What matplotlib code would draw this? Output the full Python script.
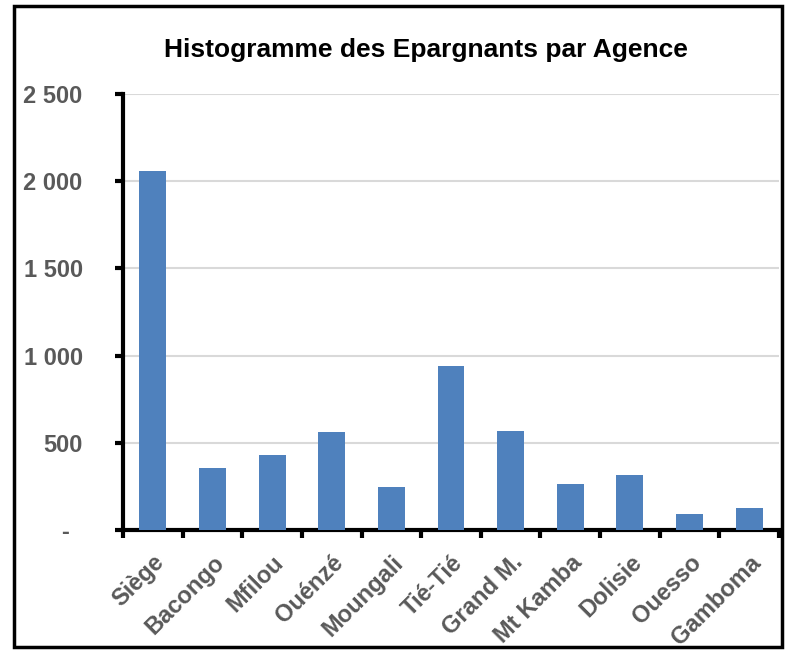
#!/usr/bin/env python3

import numpy as np
from matplotlib import pyplot as plt
from matplotlib.patches import Rectangle
from matplotlib.ticker import FuncFormatter

agences = ['Siège', 'Bacongo', 'Mfilou', 'Ouénzé', 'Moungali', 'Tié-Tié',
           'Grand M.', 'Mt Kamba', 'Dolisie', 'Ouesso', 'Gamboma']
epargnants = [2060, 357, 430, 560, 248, 939, 566, 262, 317, 93, 124]
yticks = [0, 500, 1000, 1500, 2000, 2500]


def fmt(v, pos):
    # format comptable : tiret pour zéro, espace pour les milliers
    if v == 0:
        return '-  '
    return '{:,.0f}'.format(v).replace(',', ' ')


def main():
    plt.rcParams['font.family'] = ['Liberation Sans', 'DejaVu Sans']
    W, H = 789, 650
    fig = plt.figure(figsize=(W / 100, H / 100), dpi=100)
    ax = fig.add_axes([123 / W, 1 - 530 / H, (779 - 123) / W, (530 - 94) / H])

    x = np.arange(len(agences))
    ax.bar(x, epargnants, width=0.45, color='#4f81bd', zorder=3)
    ax.set_xlim(-0.5, len(agences) - 0.5)
    ax.set_ylim(0, 2500)

    ax.set_yticks(yticks)
    ax.yaxis.set_major_formatter(FuncFormatter(fmt))
    ax.grid(axis='y', color='#d9d9d9', linewidth=1.5, zorder=0)

    ax.set_xticks(np.arange(-0.5, len(agences)), minor=False)
    ax.set_xticklabels([])
    ax.set_xticks(x, minor=True)
    ax.set_xticklabels(agences, minor=True, rotation=45, ha='right',
                       rotation_mode='anchor', fontsize=17,
                       fontweight='bold', color='#595959')
    ax.tick_params(axis='x', which='minor', length=0, pad=15)
    ax.tick_params(axis='x', which='major', length=6, width=3, direction='out')
    ax.tick_params(axis='y', length=6, width=3, direction='out', pad=23,
                   labelsize=17, labelcolor='#595959')
    for lab in ax.get_yticklabels():
        lab.set_fontweight('bold')

    for s in ['top', 'right']:
        ax.spines[s].set_visible(False)
    for s in ['left', 'bottom']:
        ax.spines[s].set_linewidth(3)

    fig.text(426 / W, 1 - 50 / H, 'Histogramme des Epargnants par Agence',
             ha='center', va='center', fontsize=19, fontweight='bold')

    fig.patches.append(Rectangle((14 / W, 1 - 647 / H), (782 - 14) / W,
                                 (647 - 6) / H, transform=fig.transFigure,
                                 fill=False, edgecolor='black', linewidth=2.5))

    fig.savefig('out.png', dpi=100)


if __name__ == '__main__':
    main()
